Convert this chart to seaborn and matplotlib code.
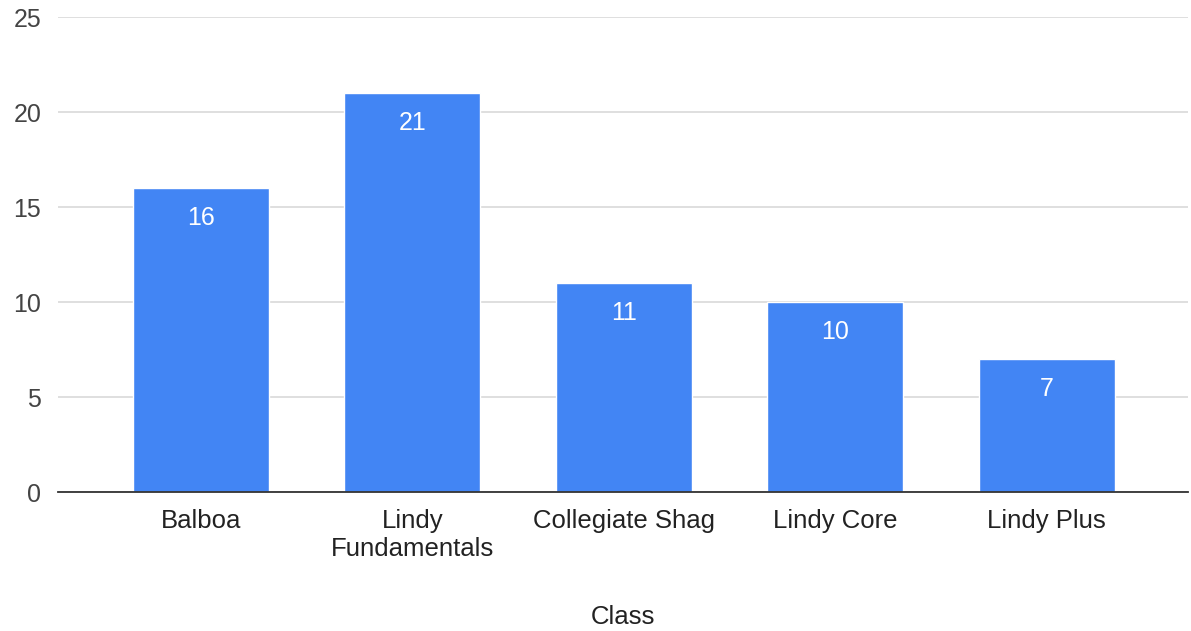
import matplotlib
matplotlib.use("Agg")
import matplotlib.pyplot as plt
import seaborn as sns
import pandas as pd

# data
classes = ["Balboa", "Lindy\nFundamentals", "Collegiate Shag", "Lindy Core", "Lindy Plus"]
counts = [16, 21, 11, 10, 7]

df = pd.DataFrame({"Class": classes, "Count": counts})

BAR = "#4285F4"
GRID = "#D9D9D9"
TXT = "#444444"

sns.set_style("white")
plt.rcParams["font.family"] = ["Liberation Sans", "DejaVu Sans"]

fig = plt.figure(figsize=(11.91, 6.31), dpi=100)
ax = fig.add_axes([0.0487, 0.2198, 0.9487, 0.7528])

sns.barplot(data=df, x="Class", y="Count", color=BAR, saturation=1,
            width=0.643, ax=ax, zorder=3)

ax.bar_label(ax.containers[0], padding=-30, color="white", fontsize=18)

ax.set_ylim(0, 25)
ax.set_xlim(-0.676, 4.667)
ax.set_yticks([0, 5, 10, 15, 20, 25])
ax.yaxis.grid(True, color=GRID, linewidth=1.2, zorder=0)
ax.set_axisbelow(True)

for s in ["top", "right", "left"]:
    ax.spines[s].set_visible(False)
ax.spines["bottom"].set_color("#333333")
ax.spines["bottom"].set_linewidth(1.3)
ax.spines["bottom"].set_zorder(4)

ax.tick_params(axis="y", length=0, pad=12, labelsize=18, labelcolor=TXT)
ax.tick_params(axis="x", length=0, pad=12, labelsize=18.5, labelcolor="#222222")
for lbl in ax.get_xticklabels():
    lbl.set_linespacing(1.2)
ax.set_ylabel("")
ax.set_xlabel("Class", fontsize=18.5, color="#222222", labelpad=32)

fig.savefig("out.png", dpi=100, facecolor="white")
